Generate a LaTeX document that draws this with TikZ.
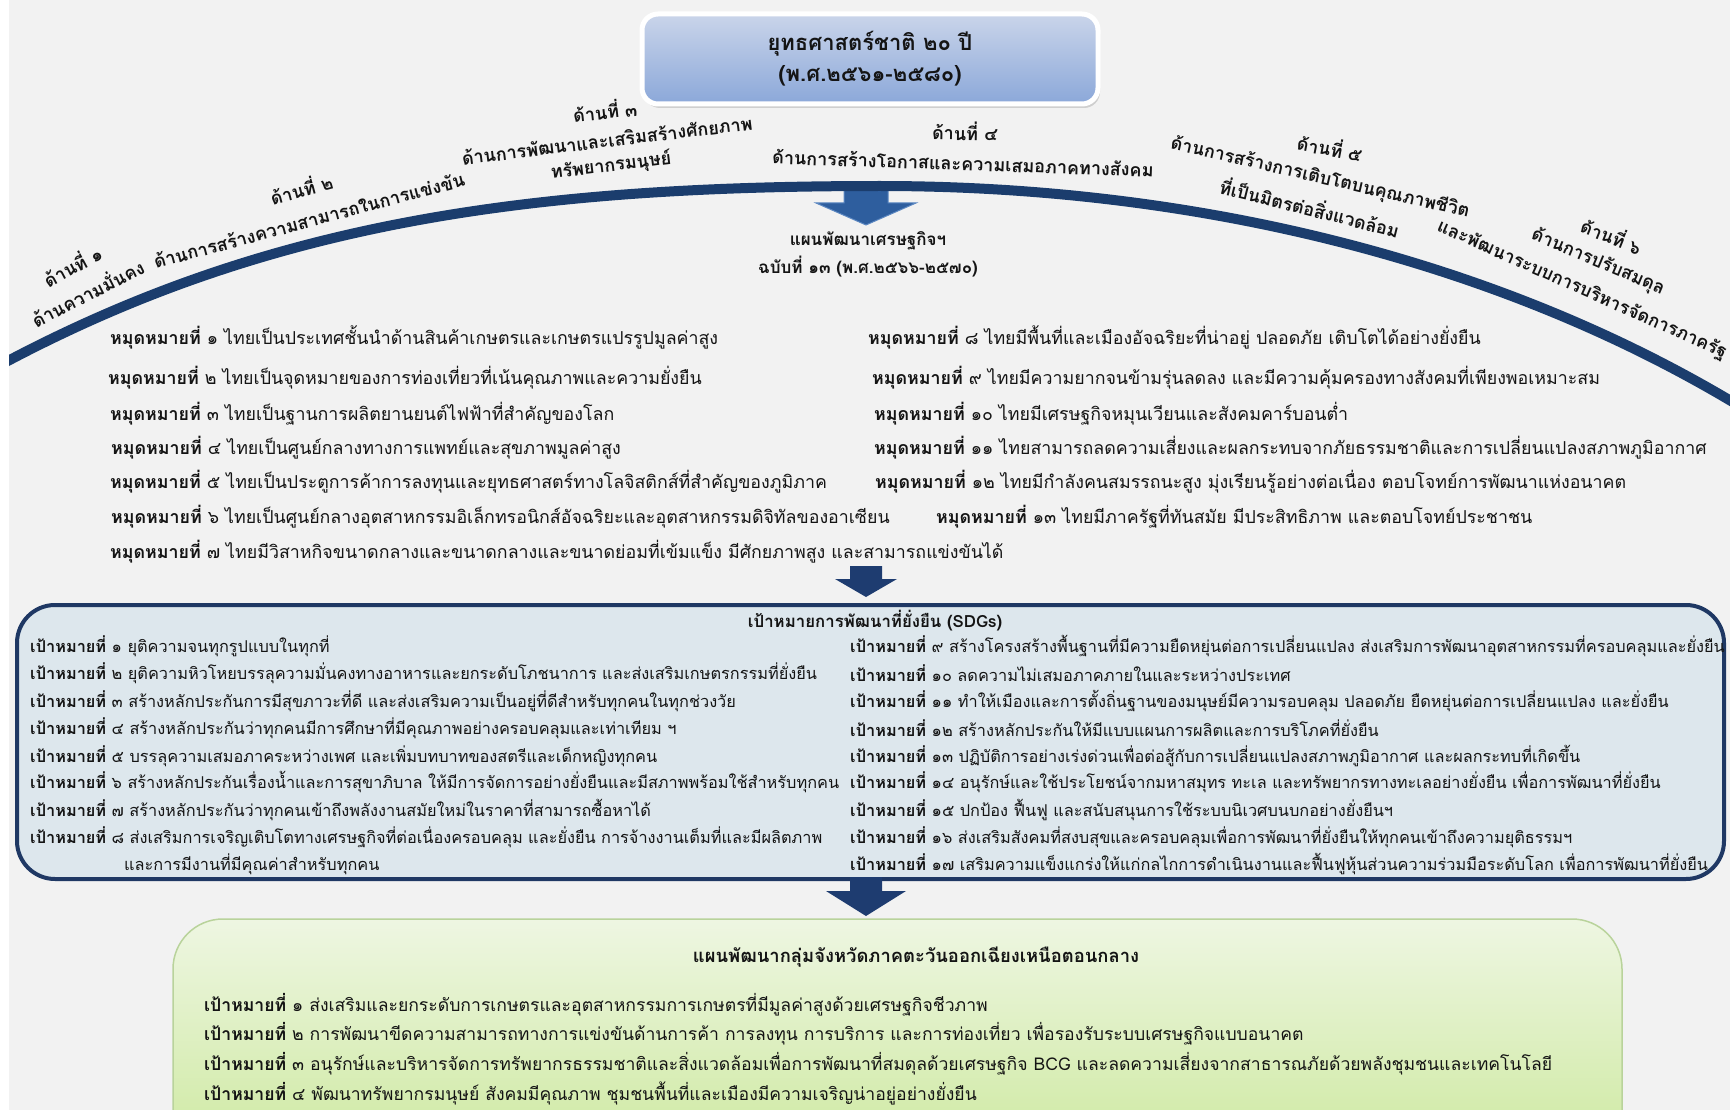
\documentclass[tikz,border=0pt]{standalone}
\usepackage{fontspec}
\setmainfont{Loma}[Script=Thai]
\usetikzlibrary{shadows,calc}
\definecolor{bgc}{HTML}{F2F2F2}
\definecolor{arcc}{HTML}{1B3D6D}
\definecolor{tittop}{HTML}{CAD5EA}
\definecolor{titbot}{HTML}{8BA8D9}
\definecolor{arrone}{HTML}{2E5E9E}
\definecolor{arronel}{HTML}{5C88C2}
\definecolor{navy}{HTML}{1E3C70}
\definecolor{sdgfill}{HTML}{DDE7ED}
\definecolor{sdgline}{HTML}{1F3864}
\definecolor{grtop}{HTML}{EEF6E2}
\definecolor{grbot}{HTML}{C8E795}
\definecolor{grline}{HTML}{B9D39B}
\definecolor{txt}{HTML}{141414}
\tikzset{
  ms/.style={anchor=west, inner sep=0pt, text=txt, font=\fontsize{17.8}{21}\selectfont},
  sd/.style={anchor=west, inner sep=0pt, text=txt, font=\fontsize{16.3}{19}\selectfont},
  gr/.style={anchor=west, inner sep=0pt, text=txt, font=\fontsize{17.6}{21}\selectfont},
  lab/.style={inner sep=0pt, text=txt, font=\bfseries\fontsize{18}{21}\selectfont},
  blockarrow/.style={fill=navy},
}
\begin{document}
\begin{tikzpicture}[x=1pt,y=-1pt]
\fill[bgc] (0,0) rectangle (1730,1110);
\useasboundingbox (0,0) rectangle (1730,1110);

% ---------- title ----------
\node[draw=white, line width=5pt, rounded corners=16pt, top color=tittop, bottom color=titbot,
  minimum width=456pt, minimum height=90pt,
  drop shadow={shadow xshift=2pt, shadow yshift=-4pt, opacity=0.3}] (title) at (870,59) {};
\node[font=\bfseries\fontsize{22}{31}\selectfont, align=center, text=txt] (titletext) at (title.center)
  {ยุทธศาสตร์ชาติ ๒๐ ปี\\(พ.ศ.๒๕๖๑-๒๕๘๐)};

% ---------- arrow under the arc ----------
\coordinate (a1) at (866,187);
\fill[arrone, draw=arronel, line width=1pt]
  ($(a1)+(-22,0)$) -- ($(a1)+(22,0)$) -- ($(a1)+(22,16)$) -- ($(a1)+(50,16)$) --
  ($(a1)+(0,38)$) -- ($(a1)+(-50,16)$) -- ($(a1)+(-22,16)$) -- cycle;

% ---------- arc ----------
\coordinate (aL) at (4,363);
\coordinate (aT) at (880,186);
\coordinate (aR) at (1736,404);
\draw[arcc, line width=10pt] (aL) .. controls (264,225) and (520,186) .. (aT)
  .. controls (1180,186) and (1486,254) .. (aR);
\fill[white] (0,0) rectangle (9,1110);

% ---------- arc labels ----------
\node[lab, rotate=28] (d1a) at (72,265) {ด้านที่ ๑};
\node[lab, rotate=27] (d1b) at (87,292) {ด้านความมั่นคง};
\node[lab, rotate=15] (d2a) at (301,188) {ด้านที่ ๒};
\node[lab, rotate=15] (d2b) at (309,220) {ด้านการสร้างความสามารถในการแข่งขัน};
\node[lab, rotate=6] (d3a) at (605,110) {ด้านที่ ๓};
\node[lab, rotate=7] (d3b) at (607,140) {ด้านการพัฒนาและเสริมสร้างศักยภาพ};
\node[lab, rotate=7] (d3c) at (611,166) {ทรัพยากรมนุษย์};
\node[lab, rotate=-1] (d4a) at (965,131) {ด้านที่ ๔};
\node[lab, rotate=-2] (d4b) at (963,163) {ด้านการสร้างโอกาสและความเสมอภาคทางสังคม};
\node[lab, rotate=-11] (d5a) at (1330,147) {ด้านที่ ๕};
\node[lab, rotate=-13] (d5b) at (1320,178) {ด้านการสร้างการเติบโตบนคุณภาพชีวิต};
\node[lab, rotate=-14] (d5c) at (1310,207) {ที่เป็นมิตรต่อสิ่งแวดล้อม};
\node[lab, rotate=-22] (d6a) at (1612,235) {ด้านที่ ๖};
\node[lab, rotate=-23] (d6b) at (1598,262) {ด้านการปรับสมดุล};
\node[lab, rotate=-24] (d6c) at (1582,290) {และพัฒนาระบบการบริหารจัดการภาครัฐ};

% ---------- national plan ----------
\node[font=\bfseries\fontsize{17}{28}\selectfont, align=center, text=txt] (plan) at (868,254)
  {แผนพัฒนาเศรษฐกิจฯ\\ฉบับที่ ๑๓ (พ.ศ.๒๕๖๖-๒๕๗๐)};

% ---------- milestones ----------
\node[ms] (m1) at (110,337) {\textbf{หมุดหมายที่} ๑ ไทยเป็นประเทศชั้นนำด้านสินค้าเกษตรและเกษตรแปรรูปมูลค่าสูง};
\node[ms] (m2) at (108,378) {\textbf{หมุดหมายที่} ๒ ไทยเป็นจุดหมายของการท่องเที่ยวที่เน้นคุณภาพและความยั่งยืน};
\node[ms] (m3) at (110,414) {\textbf{หมุดหมายที่} ๓ ไทยเป็นฐานการผลิตยานยนต์ไฟฟ้าที่สำคัญของโลก};
\node[ms] (m4) at (111,448) {\textbf{หมุดหมายที่} ๔ ไทยเป็นศูนย์กลางทางการแพทย์และสุขภาพมูลค่าสูง};
\node[ms] (m5) at (110,482) {\textbf{หมุดหมายที่} ๕ ไทยเป็นประตูการค้าการลงทุนและยุทธศาสตร์ทางโลจิสติกส์ที่สำคัญของภูมิภาค};
\node[ms] (m6) at (111,517) {\textbf{หมุดหมายที่} ๖ ไทยเป็นศูนย์กลางอุตสาหกรรมอิเล็กทรอนิกส์อัจฉริยะและอุตสาหกรรมดิจิทัลของอาเซียน};
\node[ms] (m7) at (110,552) {\textbf{หมุดหมายที่} ๗ ไทยมีวิสาหกิจขนาดกลางและขนาดกลางและขนาดย่อมที่เข้มแข็ง มีศักยภาพสูง และสามารถแข่งขันได้};
\node[ms] (m8) at (868,337) {\textbf{หมุดหมายที่} ๘ ไทยมีพื้นที่และเมืองอัจฉริยะที่น่าอยู่ ปลอดภัย เติบโตได้อย่างยั่งยืน};
\node[ms] (m9) at (872,378) {\textbf{หมุดหมายที่} ๙ ไทยมีความยากจนข้ามรุ่นลดลง และมีความคุ้มครองทางสังคมที่เพียงพอเหมาะสม};
\node[ms] (m10) at (874,414) {\textbf{หมุดหมายที่} ๑๐ ไทยมีเศรษฐกิจหมุนเวียนและสังคมคาร์บอนต่ำ};
\node[ms] (m11) at (874,448) {\textbf{หมุดหมายที่} ๑๑ ไทยสามารถลดความเสี่ยงและผลกระทบจากภัยธรรมชาติและการเปลี่ยนแปลงสภาพภูมิอากาศ};
\node[ms] (m12) at (875,482) {\textbf{หมุดหมายที่} ๑๒ ไทยมีกำลังคนสมรรถนะสูง มุ่งเรียนรู้อย่างต่อเนื่อง ตอบโจทย์การพัฒนาแห่งอนาคต};
\node[ms] (m13) at (936,517) {\textbf{หมุดหมายที่} ๑๓ ไทยมีภาครัฐที่ทันสมัย มีประสิทธิภาพ และตอบโจทย์ประชาชน};

% ---------- SDG box ----------
\node[draw=sdgline, line width=4pt, fill=sdgfill, rounded corners=38pt, inner sep=0pt,
  minimum width=1707pt, minimum height=274pt] (sdg) at (870.5,742) {};

% arrow milestones -> SDG
\coordinate (a2) at (866,566);
\fill[blockarrow] ($(a2)+(-16,0)$) -- ($(a2)+(16,0)$) -- ($(a2)+(16,13)$) -- ($(a2)+(31,13)$) --
  ($(a2)+(0,31)$) -- ($(a2)+(-31,13)$) -- ($(a2)+(-16,13)$) -- cycle;

\node[font=\bfseries\fontsize{16.8}{19}\selectfont, text=txt] (sdgt) at (875,621) {เป้าหมายการพัฒนาที่ยั่งยืน (SDGs)};
\node[sd] (g1) at (30,646) {\textbf{เป้าหมายที่} ๑ ยุติความจนทุกรูปแบบในทุกที่};
\node[sd] (g2) at (30,673) {\textbf{เป้าหมายที่} ๒ ยุติความหิวโหยบรรลุความมั่นคงทางอาหารและยกระดับโภชนาการ และส่งเสริมเกษตรกรรมที่ยั่งยืน};
\node[sd] (g3) at (30,701) {\textbf{เป้าหมายที่} ๓ สร้างหลักประกันการมีสุขภาวะที่ดี และส่งเสริมความเป็นอยู่ที่ดีสำหรับทุกคนในทุกช่วงวัย};
\node[sd] (g4) at (30,728) {\textbf{เป้าหมายที่} ๔ สร้างหลักประกันว่าทุกคนมีการศึกษาที่มีคุณภาพอย่างครอบคลุมและเท่าเทียม ฯ};
\node[sd] (g5) at (30,756) {\textbf{เป้าหมายที่} ๕ บรรลุความเสมอภาคระหว่างเพศ และเพิ่มบทบาทของสตรีและเด็กหญิงทุกคน};
\node[sd] (g6) at (30,782) {\textbf{เป้าหมายที่} ๖ สร้างหลักประกันเรื่องน้ำและการสุขาภิบาล ให้มีการจัดการอย่างยั่งยืนและมีสภาพพร้อมใช้สำหรับทุกคน};
\node[sd] (g7) at (30,810) {\textbf{เป้าหมายที่} ๗ สร้างหลักประกันว่าทุกคนเข้าถึงพลังงานสมัยใหม่ในราคาที่สามารถซื้อหาได้};
\node[sd] (g8) at (30,837) {\textbf{เป้าหมายที่} ๘ ส่งเสริมการเจริญเติบโตทางเศรษฐกิจที่ต่อเนื่องครอบคลุม และยั่งยืน การจ้างงานเต็มที่และมีผลิตภาพ};
\node[sd] (g8b) at (124,864) {และการมีงานที่มีคุณค่าสำหรับทุกคน};
\node[sd] (g9) at (850,646) {\textbf{เป้าหมายที่} ๙ สร้างโครงสร้างพื้นฐานที่มีความยืดหยุ่นต่อการเปลี่ยนแปลง ส่งเสริมการพัฒนาอุตสาหกรรมที่ครอบคลุมและยั่งยืน};
\node[sd] (g10) at (850,673) {\textbf{เป้าหมายที่} ๑๐ ลดความไม่เสมอภาคภายในและระหว่างประเทศ};
\node[sd] (g11) at (850,701) {\textbf{เป้าหมายที่} ๑๑ ทำให้เมืองและการตั้งถิ่นฐานของมนุษย์มีความรอบคลุม ปลอดภัย ยืดหยุ่นต่อการเปลี่ยนแปลง และยั่งยืน};
\node[sd] (g12) at (850,728) {\textbf{เป้าหมายที่} ๑๒ สร้างหลักประกันให้มีแบบแผนการผลิตและการบริโภคที่ยั่งยืน};
\node[sd] (g13) at (850,756) {\textbf{เป้าหมายที่} ๑๓ ปฏิบัติการอย่างเร่งด่วนเพื่อต่อสู้กับการเปลี่ยนแปลงสภาพภูมิอากาศ และผลกระทบที่เกิดขึ้น};
\node[sd] (g14) at (850,782) {\textbf{เป้าหมายที่} ๑๔ อนุรักษ์และใช้ประโยชน์จากมหาสมุทร ทะเล และทรัพยากรทางทะเลอย่างยั่งยืน เพื่อการพัฒนาที่ยั่งยืน};
\node[sd] (g15) at (850,810) {\textbf{เป้าหมายที่} ๑๕ ปกป้อง ฟื้นฟู และสนับสนุนการใช้ระบบนิเวศบนบกอย่างยั่งยืนฯ};
\node[sd] (g16) at (850,837) {\textbf{เป้าหมายที่} ๑๖ ส่งเสริมสังคมที่สงบสุขและครอบคลุมเพื่อการพัฒนาที่ยั่งยืนให้ทุกคนเข้าถึงความยุติธรรมฯ};
\node[sd] (g17) at (850,864) {\textbf{เป้าหมายที่} ๑๗ เสริมความแข็งแกร่งให้แก่กลไกการดำเนินงานและฟื้นฟูหุ้นส่วนความร่วมมือระดับโลก เพื่อการพัฒนาที่ยั่งยืน};

% ---------- green box ----------
\node[draw=grline, line width=1.5pt, top color=grtop, bottom color=grbot, rounded corners=50pt,
  inner sep=0pt, minimum width=1449pt, minimum height=280pt] (green) at (897.5,1059) {};

% arrow SDG -> green
\coordinate (a3) at (866,877);
\fill[blockarrow] ($(a3)+(-16,0)$) -- ($(a3)+(16,0)$) -- ($(a3)+(16,14)$) -- ($(a3)+(40,14)$) --
  ($(a3)+(0,39)$) -- ($(a3)+(-40,14)$) -- ($(a3)+(-16,14)$) -- cycle;

\node[font=\bfseries\fontsize{18.4}{21}\selectfont, text=txt] (grt) at (916,957) {แผนพัฒนากลุ่มจังหวัดภาคตะวันออกเฉียงเหนือตอนกลาง};
\node[gr] (p1) at (204,1005) {\textbf{เป้าหมายที่} ๑ ส่งเสริมและยกระดับการเกษตรและอุตสาหกรรมการเกษตรที่มีมูลค่าสูงด้วยเศรษฐกิจชีวภาพ};
\node[gr] (p2) at (204,1034) {\textbf{เป้าหมายที่} ๒ การพัฒนาขีดความสามารถทางการแข่งขันด้านการค้า การลงทุน การบริการ และการท่องเที่ยว เพื่อรองรับระบบเศรษฐกิจแบบอนาคต};
\node[gr] (p3) at (204,1064) {\textbf{เป้าหมายที่} ๓ อนุรักษ์และบริหารจัดการทรัพยากรธรรมชาติและสิ่งแวดล้อมเพื่อการพัฒนาที่สมดุลด้วยเศรษฐกิจ BCG และลดความเสี่ยงจากสาธารณภัยด้วยพลังชุมชนและเทคโนโลยี};
\node[gr] (p4) at (204,1093) {\textbf{เป้าหมายที่} ๔ พัฒนาทรัพยากรมนุษย์ สังคมมีคุณภาพ ชุมชนพื้นที่และเมืองมีความเจริญน่าอยู่อย่างยั่งยืน};
\end{tikzpicture}
\end{document}
